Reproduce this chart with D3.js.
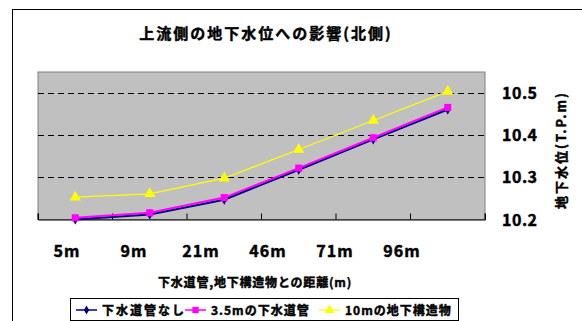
<!DOCTYPE html>
<html>
<head>
<meta charset="utf-8">
<script src="https://cdn.jsdelivr.net/npm/d3@7"></script>
<style>
  body { margin: 0; background: #fff; }
  text { font-family: "Noto Sans CJK JP", "DejaVu Sans", sans-serif; font-weight: bold; fill: #000; stroke: #000; stroke-width: 0.45px; }
</style>
</head>
<body>
<div id="chart"></div>
<script>
// data
const categories = ["5m", "9m", "21m", "46m", "71m", "96m"];
const noPipe   = [10.200, 10.212, 10.247, 10.318, 10.390, 10.461];
const pipe35   = [10.204, 10.216, 10.252, 10.322, 10.394, 10.466];
const struct10 = [10.253, 10.261, 10.298, 10.366, 10.435, 10.504];
const yTicks = [10.2, 10.3, 10.4, 10.5];
const seriesNames = ["下水道管なし", "3.5mの下水道管", "10mの地下構造物"];

let w = 582;
let h = 321;

let svg = d3.select("#chart")
    .append("svg")
    .attr("width", w)
    .attr("height", h);

// outer chart frame (runs off the picture right/bottom)
svg.append("rect")
    .attr("x", 12.5).attr("y", 9.5)
    .attr("width", 700).attr("height", 400)
    .attr("fill", "#fff")
    .attr("stroke", "#000");

let plot = {left: 38, right: 485, top: 72, bottom: 219.5};

let xScale = d3.scaleBand()
    .domain(categories)
    .range([plot.left, plot.right])
    .padding(0);

let yScale = d3.scaleLinear()
    .domain([10.2, 10.55])
    .range([plot.bottom, plot.top]);

// label positions under the axis sit on their own spacing in the original
let labelScale = d3.scalePoint()
    .domain(categories)
    .range([67, 402]);

// plot background
svg.append("rect")
    .attr("x", plot.left).attr("y", plot.top)
    .attr("width", plot.right - plot.left)
    .attr("height", plot.bottom - plot.top)
    .attr("fill", "#c0c0c0")
    .attr("stroke", "#808080");

// gridlines
svg.selectAll(".grid")
    .data(yTicks.slice(1))
    .enter()
    .append("line")
    .attr("class", "grid")
    .attr("x1", plot.left).attr("x2", plot.right)
    .attr("y1", d => Math.round(yScale(d)) + 0.5)
    .attr("y2", d => Math.round(yScale(d)) + 0.5)
    .attr("stroke", "#000")
    .attr("stroke-dasharray", "6,4");

// x axis line + ticks (ticks point up into the plot)
let xAxis = d3.axisTop(xScale).tickSize(6).tickFormat("");
let xg = svg.append("g")
    .attr("transform", "translate(0," + plot.bottom + ")")
    .call(xAxis);
xg.select(".domain").attr("stroke", "#000");
xg.selectAll(".tick line")
    .attr("transform", d => "translate(" + (-xScale.bandwidth() / 2) + ",0)")
    .attr("stroke", "#000");
xg.append("line")
    .attr("x1", plot.right).attr("x2", plot.right)
    .attr("y1", 0).attr("y2", -6)
    .attr("stroke", "#000");

// x labels
svg.selectAll(".xlabel")
    .data(categories)
    .enter()
    .append("text")
    .attr("class", "xlabel")
    .attr("x", d => labelScale(d))
    .attr("y", 257)
    .attr("text-anchor", "middle")
    .style("font-size", "16px")
    .style("letter-spacing", "1px")
    .text(d => d);

// y labels on the right
svg.selectAll(".ylabel")
    .data(yTicks)
    .enter()
    .append("text")
    .attr("class", "ylabel")
    .attr("x", 502)
    .attr("y", d => yScale(d) + 6)
    .style("font-size", "16px")
    .style("letter-spacing", "0.5px")
    .text(d => d.toFixed(1));

// titles
svg.append("text")
    .attr("x", 266).attr("y", 39)
    .attr("text-anchor", "middle")
    .style("font-size", "15px")
    .style("letter-spacing", "2px")
    .text("上流側の地下水位への影響(北側)");

svg.append("text")
    .attr("x", 255).attr("y", 287)
    .attr("text-anchor", "middle")
    .style("font-size", "12px")
    .style("letter-spacing", "0.8px")
    .text("下水道管,地下構造物との距離(m)");

svg.append("text")
    .attr("transform", "translate(566,150) rotate(-90)")
    .attr("text-anchor", "middle")
    .style("font-size", "13px")
    .style("letter-spacing", "2px")
    .text("地下水位(T.P.m)");

// series
let series = [
    {name: seriesNames[0], values: noPipe, color: "#000080", width: 2, shape: d3.symbolDiamond, size: 30},
    {name: seriesNames[1], values: pipe35, color: "#ff00ff", width: 2, shape: d3.symbolSquare, size: 50},
    {name: seriesNames[2], values: struct10, color: "#ffff00", width: 1.2, shape: d3.symbolTriangle, size: 55}
];

let line = d3.line()
    .x((d, i) => xScale(categories[i]) + xScale.bandwidth() / 2)
    .y(d => yScale(d));

series.forEach(function(s) {
    svg.append("path")
        .datum(s.values)
        .attr("d", line)
        .attr("fill", "none")
        .attr("stroke", s.color)
        .attr("stroke-width", s.width);

    svg.selectAll(null)
        .data(s.values)
        .enter()
        .append("path")
        .attr("d", d3.symbol().type(s.shape).size(s.size))
        .attr("transform", (d, i) => "translate(" + (xScale(categories[i]) + xScale.bandwidth() / 2) + "," + yScale(d) + ")")
        .attr("fill", s.color);
});

// legend
let legend = svg.append("g");
legend.append("rect")
    .attr("x", 70.5).attr("y", 298.5)
    .attr("width", 388).attr("height", 22)
    .attr("fill", "#fff")
    .attr("stroke", "#000");

let legendX = [76, 185, 319];
series.forEach(function(s, i) {
    let g = legend.append("g").attr("transform", "translate(" + legendX[i] + ",310)");
    g.append("line")
        .attr("x1", 0).attr("x2", 21)
        .attr("stroke", s.color)
        .attr("stroke-width", s.width === 2 ? 1.5 : 1.2);
    g.append("path")
        .attr("d", d3.symbol().type(s.shape).size(s.size * 0.8))
        .attr("transform", "translate(10.5,0)")
        .attr("fill", s.color);
    g.append("text")
        .attr("x", 26)
        .attr("y", 5)
        .style("font-size", "12px")
        .style("letter-spacing", i === 0 ? "2px" : "1px")
        .text(s.name);
});
</script>
</body>
</html>
